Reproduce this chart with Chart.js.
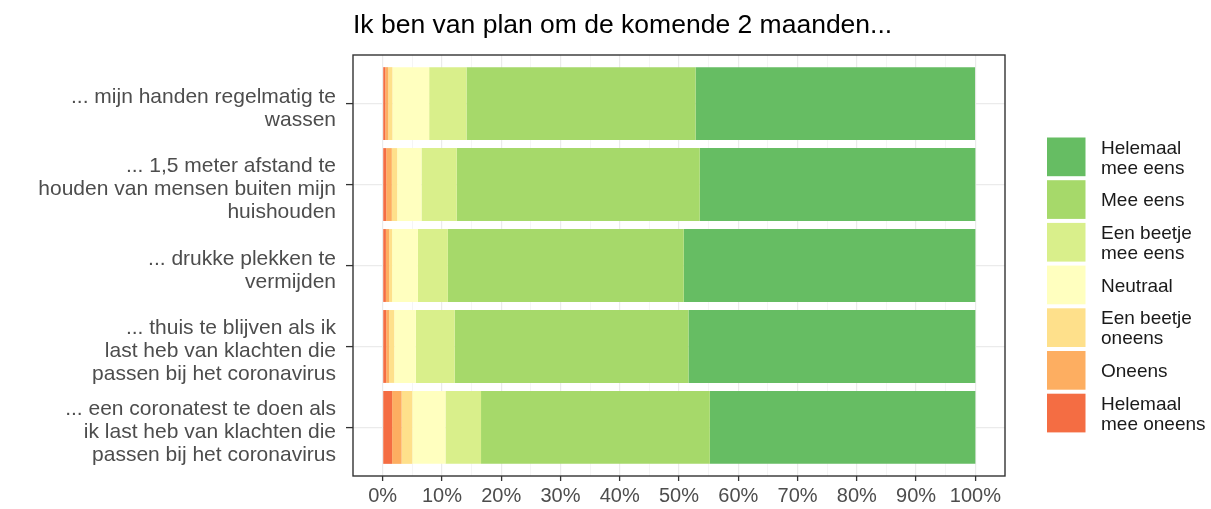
<!DOCTYPE html>
<html><head><meta charset="utf-8">
<script src="https://cdn.jsdelivr.net/npm/chart.js@4/dist/chart.umd.min.js"></script>
<style>html,body{margin:0;padding:0;background:#fff}#wrap{width:1211px;height:509px;position:relative}</style>
</head><body><div id="wrap"><canvas id="c" width="1211" height="509"></canvas></div>
<script>
const chartTitle = 'Ik ben van plan om de komende 2 maanden...';
const categories = [
  ['... mijn handen regelmatig te', 'wassen'],
  ['... 1,5 meter afstand te', 'houden van mensen buiten mijn', 'huishouden'],
  ['... drukke plekken te', 'vermijden'],
  ['... thuis te blijven als ik', 'last heb van klachten die', 'passen bij het coronavirus'],
  ['... een coronatest te doen als', 'ik last heb van klachten die', 'passen bij het coronavirus']
];
const seriesNames = ['Helemaal mee oneens', 'Oneens', 'Een beetje oneens', 'Neutraal', 'Een beetje mee eens', 'Mee eens', 'Helemaal mee eens'];
const legendLabels = [['Helemaal', 'mee oneens'], ['Oneens'], ['Een beetje', 'oneens'], ['Neutraal'], ['Een beetje', 'mee eens'], ['Mee eens'], ['Helemaal', 'mee eens']];
const colors = ['#F46D43', '#FDAE61', '#FEE08B', '#FFFFBF', '#D9EF8B', '#A6D96A', '#66BD63'];
// percentages per category (top to bottom)
const helemaalMeeOneens = [0.45, 0.6, 0.55, 0.6, 1.6];
const oneens = [0.5, 0.95, 0.55, 0.5, 1.6];
const eenBeetjeOneens = [0.7, 0.9, 0.5, 0.85, 1.8];
const neutraal = [6.2, 4.1, 4.35, 3.65, 5.6];
const eenBeetjeMeeEens = [6.3, 5.95, 5.05, 6.55, 6.0];
const meeEens = [38.65, 41.0, 39.8, 39.45, 38.6];
const helemaalMeeEens = [47.15, 46.5, 49.2, 48.4, 44.8];
const xTickValues = [0, 10, 20, 30, 40, 50, 60, 70, 80, 90, 100];
const xMinorValues = [5, 15, 25, 35, 45, 55, 65, 75, 85, 95];

const seriesValues = [helemaalMeeOneens, oneens, eenBeetjeOneens, neutraal, eenBeetjeMeeEens, meeEens, helemaalMeeEens];

const FONT = "'Liberation Sans', Arial, sans-serif";

const datasets = seriesNames.map((name, k) => ({
  label: name,
  data: seriesValues[k].map((v, i) => ({ x: v, y: i })),
  backgroundColor: colors[k],
  borderWidth: 0,
  barPercentage: 0.9,
  categoryPercentage: 1.0
}));

const panelBorder = {
  id: 'panelBorder',
  afterDatasetsDraw(chart) {
    const { ctx, chartArea: a } = chart;
    ctx.save();
    ctx.strokeStyle = '#333333';
    ctx.lineWidth = 1.4;
    ctx.strokeRect(a.left, a.top, a.right - a.left, a.bottom - a.top);
    ctx.restore();
  }
};

const titleAndLegend = {
  id: 'titleAndLegend',
  afterDraw(chart) {
    const { ctx, chartArea: a } = chart;
    ctx.save();
    ctx.fillStyle = '#000000';
    ctx.font = '26.5px ' + FONT;
    ctx.textBaseline = 'alphabetic';
    ctx.textAlign = 'left';
    ctx.fillText(chartTitle, a.left, 33);
    // legend (reversed order: top = last series)
    const keyX = 1047, keyY0 = 137.5, pitch = 42.7, keyW = 38.5, keyH = 38.7;
    ctx.font = '19px ' + FONT;
    ctx.textBaseline = 'middle';
    for (let j = 0; j < seriesNames.length; j++) {
      const k = seriesNames.length - 1 - j;
      const y = keyY0 + j * pitch;
      ctx.fillStyle = colors[k];
      ctx.fillRect(keyX, y, keyW, keyH);
      ctx.fillStyle = '#1A1A1A';
      const lines = legendLabels[k];
      const lh = 20;
      const cy = y + keyH / 2 + 1.5;
      lines.forEach((t, li) => {
        ctx.fillText(t, 1101, cy + (li - (lines.length - 1) / 2) * lh);
      });
    }
    ctx.restore();
  }
};

new Chart(document.getElementById('c'), {
  type: 'bar',
  data: { datasets },
  options: {
    indexAxis: 'y',
    responsive: false,
    animation: false,
    layout: { padding: { left: 0, top: 55, right: 206, bottom: 0 } },
    plugins: { legend: { display: false }, title: { display: false }, tooltip: { enabled: false } },
    scales: {
      x: {
        type: 'linear',
        stacked: true,
        min: -5,
        max: 105,
        offset: false,
        afterBuildTicks: s => { s.ticks = xTickValues.concat(xMinorValues).sort((a, b) => a - b).map(v => ({ value: v })); },
        afterFit: s => { s.height = 32; },
        ticks: {
          autoSkip: false,
          maxRotation: 0,
          padding: 3,
          color: '#4D4D4D',
          font: { family: FONT, size: 20 },
          callback: v => (xTickValues.includes(v) ? v + '%' : '')
        },
        grid: {
          offset: false,
          color: c => (c.tick && xTickValues.includes(c.tick.value) ? '#EBEBEB' : '#F2F2F2'),
          lineWidth: c => (c.tick && xTickValues.includes(c.tick.value) ? 1.2 : 0.8),
          tickColor: c => (c.tick && xTickValues.includes(c.tick.value) ? '#333333' : 'rgba(0,0,0,0)'),
          tickLength: 5,
          tickWidth: 1.3,
          drawTicks: true
        },
        border: { display: false }
      },
      y: {
        type: 'linear',
        stacked: true,
        reverse: true,
        min: -0.6,
        max: 4.6,
        offset: false,
        afterBuildTicks: s => { s.ticks = categories.map((c, i) => ({ value: i })); },
        afterFit: s => { s.width = 353; },
        ticks: {
          autoSkip: false,
          padding: 10,
          labelOffset: 5,
          color: '#4D4D4D',
          font: { family: FONT, size: 21, lineHeight: '23px' },
          callback: v => categories[v]
        },
        grid: {
          offset: false,
          color: '#EBEBEB',
          lineWidth: 1.2,
          tickColor: '#333333',
          tickLength: 7,
          tickWidth: 1.3
        },
        border: { display: false }
      }
    }
  },
  plugins: [panelBorder, titleAndLegend]
});
</script>
</body></html>
